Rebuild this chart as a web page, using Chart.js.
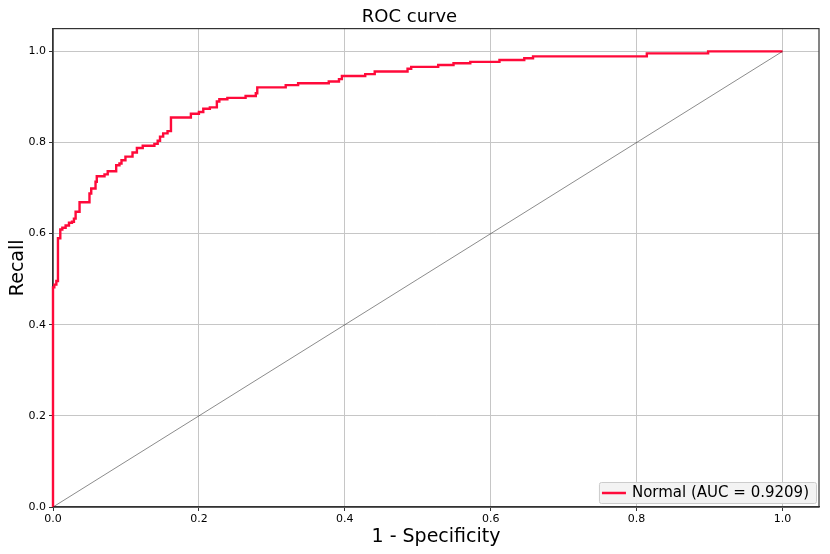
<!DOCTYPE html>
<html>
<head>
<meta charset="utf-8">
<script src="https://cdn.jsdelivr.net/npm/chart.js@4.4.1/dist/chart.umd.min.js"></script>
<style>
  html, body { margin: 0; padding: 0; background: #ffffff; }
  #wrap { width: 830px; height: 554px; }
</style>
</head>
<body>
<div id="wrap"><canvas id="c" width="830" height="554"></canvas></div>
<script>
// ---- data ----
const titleText = 'ROC curve';
const xTitle = '1 - Specificity';
const yTitle = 'Recall';
const seriesLabel = 'Normal (AUC = 0.9209)';
const tickValues = [0, 0.2, 0.4, 0.6, 0.8, 1.0];
const fpr = [0, 0, 0.0018, 0.0046, 0.0068, 0.010, 0.0128, 0.0173, 0.0219, 0.026, 0.0287, 0.031, 0.0364,
  0.050, 0.0524, 0.0583, 0.060, 0.0706, 0.075, 0.0866, 0.0911, 0.0939, 0.0993, 0.109, 0.115, 0.123,
  0.139, 0.1435, 0.1467, 0.151, 0.157, 0.1617, 0.189, 0.200, 0.206, 0.215, 0.2246, 0.228, 0.239,
  0.264, 0.278, 0.280, 0.319, 0.336, 0.378, 0.392, 0.396, 0.428, 0.441, 0.486, 0.491, 0.528, 0.549,
  0.572, 0.612, 0.646, 0.658, 0.814, 0.898, 1.0];
const tpr = [0, 0.482, 0.488, 0.496, 0.590, 0.609, 0.613, 0.618, 0.624, 0.626, 0.633, 0.648, 0.669,
  0.688, 0.699, 0.714, 0.726, 0.730, 0.737, 0.750, 0.754, 0.761, 0.769, 0.778, 0.788, 0.793,
  0.797, 0.804, 0.813, 0.820, 0.825, 0.855, 0.863, 0.867, 0.874, 0.877, 0.890, 0.895, 0.898,
  0.902, 0.908, 0.921, 0.926, 0.930, 0.934, 0.939, 0.946, 0.950, 0.956, 0.962, 0.966, 0.970, 0.974,
  0.977, 0.981, 0.985, 0.989, 0.9956, 1.0, 1.0];
const chanceX = [0, 1];
const chanceY = [0, 1];

const curveColor = '#ff0a3a';
const FONT = 'DejaVu Sans';

const framePlugin = {
  id: 'frame',
  beforeDatasetsDraw(chart) {
    const { ctx, chartArea: a } = chart;
    ctx.save();
    ctx.strokeStyle = '#333333';
    ctx.lineWidth = 1.2;
    ctx.strokeRect(a.left, a.top, a.right - a.left, a.bottom - a.top);
    ctx.restore();
  }
};

const legendPlugin = {
  id: 'boxLegend',
  afterDatasetsDraw(chart) {
    const { ctx, chartArea: a } = chart;
    const ds = chart.data.datasets[1];
    ctx.save();
    ctx.font = '15px "' + FONT + '"';
    const tw = ctx.measureText(ds.label).width;
    const w = tw + 40, h = 21;
    const right = a.right - 3, bottom = a.bottom - 4;
    const x = right - w, y = bottom - h;
    ctx.fillStyle = 'rgba(242,242,242,0.95)';
    ctx.strokeStyle = '#cccccc';
    ctx.lineWidth = 1;
    ctx.beginPath();
    if (ctx.roundRect) ctx.roundRect(x + 0.5, y + 0.5, w, h, 2); else ctx.rect(x + 0.5, y + 0.5, w, h);
    ctx.fill();
    ctx.stroke();
    ctx.strokeStyle = ds.borderColor;
    ctx.lineWidth = 2.5;
    ctx.beginPath();
    ctx.moveTo(x + 3, y + h / 2 + 0.5);
    ctx.lineTo(x + 27, y + h / 2 + 0.5);
    ctx.stroke();
    ctx.fillStyle = '#000000';
    ctx.textBaseline = 'middle';
    ctx.textAlign = 'left';
    ctx.fillText(ds.label, x + 33, y + h / 2 + 1);
    ctx.restore();
  }
};

new Chart(document.getElementById('c'), {
  type: 'line',
  data: {
    datasets: [
      {
        label: 'chance',
        data: chanceX.map((v, i) => ({ x: v, y: chanceY[i] })),
        borderColor: 'rgba(0,0,0,0.65)',
        borderWidth: 0.7,
        pointRadius: 0,
        fill: false
      },
      {
        label: seriesLabel,
        data: fpr.map((v, i) => ({ x: v, y: tpr[i] })),
        borderColor: curveColor,
        borderWidth: 2.4,
        pointRadius: 0,
        stepped: 'before',
        fill: false,
        clip: 4
      }
    ]
  },
  options: {
    responsive: false,
    animation: false,
    devicePixelRatio: 1,
    layout: { padding: { left: 0, right: 11, top: 0, bottom: 0 } },
    plugins: {
      legend: { display: false },
      tooltip: { enabled: false },
      title: {
        display: true,
        text: titleText,
        color: '#000000',
        font: { family: FONT, size: 18, weight: 'normal', lineHeight: 1.2 },
        padding: { top: 7, bottom: 0 }
      }
    },
    scales: {
      x: {
        type: 'linear',
        min: 0,
        max: 1.05,
        afterBuildTicks(scale) { scale.ticks = tickValues.map(v => ({ value: v })); },
        afterFit(scale) { scale.height = 47; },
        ticks: {
          color: '#000000',
          font: { family: FONT, size: 11 },
          padding: 2,
          maxRotation: 0,
          callback: v => Number(v).toFixed(1)
        },
        grid: { color: '#c6c6c6', lineWidth: 1, tickColor: '#333333', tickLength: 4 },
        border: { display: true, color: '#333333', width: 1.2 },
        title: {
          display: true,
          text: xTitle,
          color: '#000000',
          font: { family: FONT, size: 19 },
          padding: { top: 0, bottom: 6 }
        }
      },
      y: {
        type: 'linear',
        min: 0,
        max: 1.05,
        afterBuildTicks(scale) { scale.ticks = tickValues.map(v => ({ value: v })); },
        afterFit(scale) { scale.width = 53; },
        ticks: {
          color: '#000000',
          font: { family: FONT, size: 11 },
          padding: 3,
          callback: v => Number(v).toFixed(1)
        },
        grid: { color: '#c6c6c6', lineWidth: 1, tickColor: '#333333', tickLength: 4 },
        border: { display: true, color: '#333333', width: 1.2 },
        title: {
          display: true,
          text: yTitle,
          color: '#000000',
          font: { family: FONT, size: 19 },
          padding: { top: 7, bottom: 0 }
        }
      }
    }
  },
  plugins: [framePlugin, legendPlugin]
});
</script>
</body>
</html>
